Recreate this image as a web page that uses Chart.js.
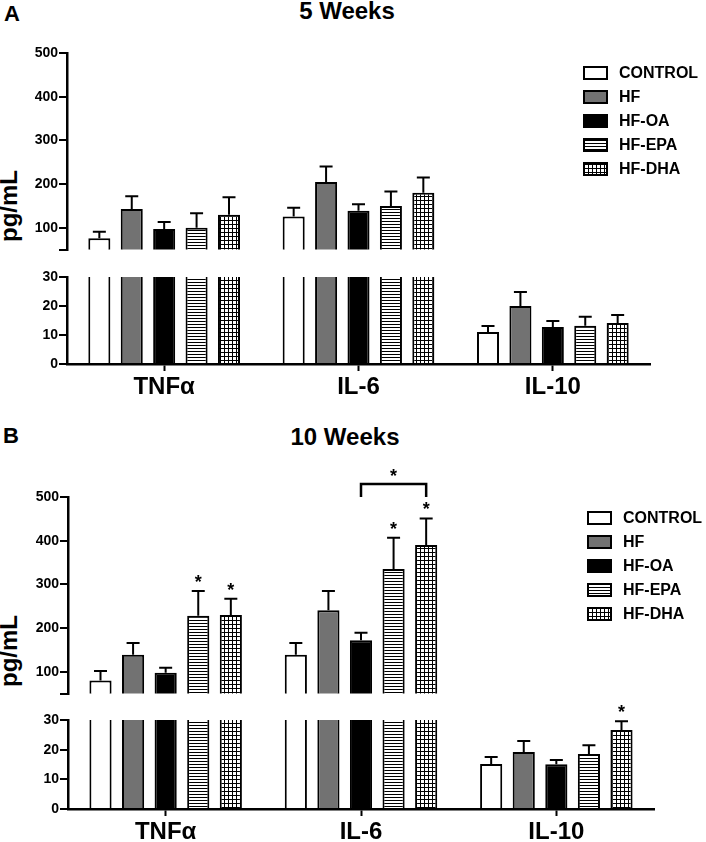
<!DOCTYPE html>
<html><head><meta charset="utf-8">
<script src="https://cdn.jsdelivr.net/npm/chart.js@4/dist/chart.umd.min.js"></script>
<style>
html,body{margin:0;padding:0;background:#fff;overflow:hidden;width:706px;height:842px;}
body{position:relative;font-family:"Liberation Sans",Arial,Helvetica,sans-serif;}
canvas{position:absolute;left:0;}
.t{position:absolute;font-weight:bold;color:#000;white-space:nowrap;transform:translate(-50%,-50%);line-height:normal;}
</style></head><body>
<div class="t" style="left:12px;top:14px;font-size:22px;">A</div>
<div class="t" style="left:347px;top:11px;font-size:24px;">5 Weeks</div>
<div class="t" style="left:9px;top:206px;font-size:24px;transform:translate(-50%,-50%) rotate(-90deg);">pg/mL</div>
<div class="t" style="left:11px;top:436px;font-size:22px;">B</div>
<div class="t" style="left:345px;top:437px;font-size:24px;">10 Weeks</div>
<div class="t" style="left:9px;top:651px;font-size:24px;transform:translate(-50%,-50%) rotate(-90deg);">pg/mL</div>
<canvas id="aU"></canvas><canvas id="aL"></canvas>
<canvas id="bU"></canvas><canvas id="bL"></canvas>
<script>
// ---------- data ----------
const categories = ['TNFα', 'IL-6', 'IL-10'];
const groups = ['CONTROL', 'HF', 'HF-OA', 'HF-EPA', 'HF-DHA'];
const yTicksUpper = [100, 200, 300, 400, 500];
const yTicksLower = [0, 10, 20, 30];
const upperMin = 50, upperMax = 500, lowerMin = 0, lowerMax = 30;

// 5 weeks (mean, SEM)
const control5 = [76, 126, 11.0];   const control5Err = [15, 20, 2.1];
const hf5      = [143, 205, 20.0];  const hf5Err      = [29, 35, 4.8];
const oa5      = [97, 139, 12.8];   const oa5Err      = [16, 15, 2.0];
const epa5     = [100, 150, 13.2];  const epa5Err     = [33, 33, 3.1];
const dha5     = [130, 180, 14.1];  const dha5Err     = [40, 35, 2.8];

// 10 weeks (mean, SEM)
const control10 = [80, 139, 15.2];  const control10Err = [22, 27, 2.3];
const hf10      = [139, 241, 19.2]; const hf10Err      = [27, 44, 3.7];
const oa10      = [98, 172, 15.1];  const oa10Err      = [11, 17, 1.4];
const epa10     = [228, 335, 18.5]; const epa10Err     = [57, 72, 3.0];
const dha10     = [230, 390, 26.6]; const dha10Err     = [37, 61, 3.0];

// significance marks (category index, group index)
const sig10 = [[0, 3], [0, 4], [1, 3], [1, 4], [2, 4]];
// bracket: category, from group, to group
const bracket10 = [1, 2, 4];

// ---------- styles ----------
const FONT = '"Liberation Sans", Arial, Helvetica, sans-serif';
Chart.defaults.font.family = FONT;
Chart.defaults.font.weight = 'bold';
Chart.defaults.color = '#000';

function stripePattern(){
  const c = document.createElement('canvas'); c.width = 4; c.height = 3;
  const x = c.getContext('2d');
  x.fillStyle = '#fff'; x.fillRect(0,0,4,3);
  x.fillStyle = '#000'; x.fillRect(0,0,4,1);
  return x.createPattern(c, 'repeat');
}
function gridPattern(){
  const c = document.createElement('canvas'); c.width = 4; c.height = 4;
  const x = c.getContext('2d');
  x.fillStyle = '#fff'; x.fillRect(0,0,4,4);
  x.fillStyle = '#000'; x.fillRect(0,0,4,1); x.fillRect(0,0,1,4);
  return x.createPattern(c, 'repeat');
}
const fills = ['#ffffff', '#727272', '#000000', stripePattern(), gridPattern()];

// ---------- plugins ----------
const errPlugin = {
  id: 'errbars',
  afterDatasetsDraw(chart) {
    const ctx = chart.ctx, a = chart.chartArea, y = chart.scales.y;
    ctx.save();
    ctx.beginPath(); ctx.rect(a.left, a.top - 2, a.right - a.left, a.bottom - a.top + 2); ctx.clip();
    ctx.strokeStyle = '#000'; ctx.lineWidth = 2;
    chart.data.datasets.forEach((ds, i) => {
      chart.getDatasetMeta(i).data.forEach((bar, j) => {
        const v = ds.data[j], e = ds.errors[j];
        const y0 = y.getPixelForValue(v), y1 = y.getPixelForValue(v + e);
        ctx.beginPath();
        ctx.moveTo(bar.x, y0); ctx.lineTo(bar.x, y1);
        ctx.moveTo(bar.x - 6.5, y1); ctx.lineTo(bar.x + 6.5, y1);
        ctx.stroke();
      });
    });
    ctx.restore();
  }
};

function drawStar(ctx, x, cy) {
  ctx.save();
  ctx.font = 'bold 18px ' + FONT;
  ctx.fillStyle = '#000'; ctx.textAlign = 'center'; ctx.textBaseline = 'alphabetic';
  ctx.fillText('*', x, cy + 10);
  ctx.restore();
}

const annotPlugin = {
  id: 'annot',
  afterDraw(chart, args, opts) {
    const ctx = chart.ctx, a = chart.chartArea, y = chart.scales.y;
    // significance asterisks
    (opts.sig || []).forEach(([c, g]) => {
      const ds = chart.data.datasets[g];
      const bar = chart.getDatasetMeta(g).data[c];
      const cap = y.getPixelForValue(ds.data[c] + ds.errors[c]);
      if (cap >= a.top - 1 && cap <= a.bottom) drawStar(ctx, bar.x, cap - 13);
    });
    // bracket
    if (opts.bracket) {
      const [c, g1, g2] = opts.bracket;
      const x1 = chart.getDatasetMeta(g1).data[c].x, x2 = chart.getDatasetMeta(g2).data[c].x;
      const yb = y.getPixelForValue(opts.bracketLevel);
      ctx.save();
      ctx.strokeStyle = '#000'; ctx.lineWidth = 2.5; ctx.lineCap = 'butt';
      ctx.beginPath();
      ctx.moveTo(x1, yb + 13); ctx.lineTo(x1, yb); ctx.lineTo(x2, yb); ctx.lineTo(x2, yb + 13);
      ctx.stroke();
      ctx.restore();
      drawStar(ctx, (x1 + x2) / 2, yb - 12);
    }
    // legend
    if (opts.legend) {
      ctx.save();
      chart.data.datasets.forEach((ds, i) => {
        const bx = a.right - 67, cy = a.top + opts.legendTop + i * 24;
        ctx.fillStyle = ds.backgroundColor;
        ctx.fillRect(bx, cy - 7, 25, 14);
        ctx.strokeStyle = '#000'; ctx.lineWidth = 2;
        ctx.strokeRect(bx + 1, cy - 6, 23, 12);
        ctx.fillStyle = '#000';
        ctx.font = 'bold 16px ' + FONT;
        ctx.textAlign = 'left'; ctx.textBaseline = 'middle';
        ctx.fillText(ds.label, bx + 36, cy + 1);
      });
      ctx.restore();
    }
  }
};

// ---------- builders ----------
function datasets(means, errs) {
  return groups.map((g, i) => ({
    label: g, data: means[i], errors: errs[i],
    backgroundColor: fills[i], borderColor: '#000', borderWidth: 2,
    categoryPercentage: 0.834, barPercentage: 0.68, clip: 0
  }));
}

function yScale(min, max, tickVals, showVals, width) {
  return {
    min, max,
    afterFit(s) { s.width = width; },
    afterBuildTicks(s) { s.ticks = tickVals.map(v => ({ value: v })); },
    ticks: { font: { size: 14, weight: 'bold' }, color: '#000', padding: 1,
             callback: v => showVals.includes(v) ? String(v) : '' },
    grid: { drawOnChartArea: false, drawTicks: true, tickLength: 8, tickWidth: 2, tickColor: '#000', lineWidth: 2, color: '#000' },
    border: { display: true, width: 2.5, color: '#000' }
  };
}

const PAD_U = 45, PAD_L = 25;

function makePanel(ids, means, errs, geo, annot) {
  const W = 706;
  // upper segment
  const cu = document.getElementById(ids[0]);
  cu.width = W; cu.height = geo.upperBottom - geo.areaTop + PAD_U;
  cu.style.top = (geo.areaTop - PAD_U) + 'px';
  new Chart(cu, {
    type: 'bar',
    data: { labels: categories, datasets: datasets(means, errs) },
    options: {
      responsive: false, animation: false, events: [],
      layout: { padding: { top: PAD_U, right: W - geo.right, left: 0, bottom: 0 } },
      plugins: { legend: { display: false }, tooltip: { enabled: false },
                 annot: { legend: true, legendTop: geo.legendTop, sig: annot.sig, bracket: annot.bracket, bracketLevel: annot.bracketLevel } },
      scales: {
        x: { display: false },
        y: yScale(upperMin, upperMax, [upperMin].concat(yTicksUpper), yTicksUpper, geo.left)
      }
    },
    plugins: [errPlugin, annotPlugin]
  });
  // lower segment
  const cl = document.getElementById(ids[1]);
  cl.width = W; cl.height = geo.lowerBottom - geo.lowerTop + PAD_L + 40;
  cl.style.top = (geo.lowerTop - PAD_L) + 'px';
  new Chart(cl, {
    type: 'bar',
    data: { labels: categories, datasets: datasets(means, errs) },
    options: {
      responsive: false, animation: false, events: [],
      layout: { padding: { top: PAD_L, right: W - geo.right, left: 0, bottom: 0 } },
      plugins: { legend: { display: false }, tooltip: { enabled: false },
                 annot: { legend: false, sig: annot.sig } },
      scales: {
        x: {
          afterFit(s) { s.height = 40; },
          ticks: { font: { size: 24, weight: 'bold' }, color: '#000', padding: 2, maxRotation: 0, autoSkip: false },
          grid: { drawOnChartArea: false, drawTicks: true, tickLength: 7, tickWidth: 2, tickColor: '#000', offset: false, color: '#000' },
          border: { display: true, width: 2.5, color: '#000' }
        },
        y: yScale(lowerMin, lowerMax, yTicksLower, yTicksLower, geo.left)
      }
    },
    plugins: [errPlugin, annotPlugin]
  });
}

makePanel(['aU', 'aL'],
  [control5, hf5, oa5, epa5, dha5],
  [control5Err, hf5Err, oa5Err, epa5Err, dha5Err],
  { areaTop: 53, upperBottom: 259, lowerTop: 277, lowerBottom: 364, left: 67, right: 650, legendTop: 20 },
  {});

makePanel(['bU', 'bL'],
  [control10, hf10, oa10, epa10, dha10],
  [control10Err, hf10Err, oa10Err, epa10Err, dha10Err],
  { areaTop: 497, upperBottom: 703, lowerTop: 720, lowerBottom: 809, left: 68, right: 654, legendTop: 21 },
  { sig: sig10, bracket: bracket10, bracketLevel: 530 });
</script>
</body></html>
